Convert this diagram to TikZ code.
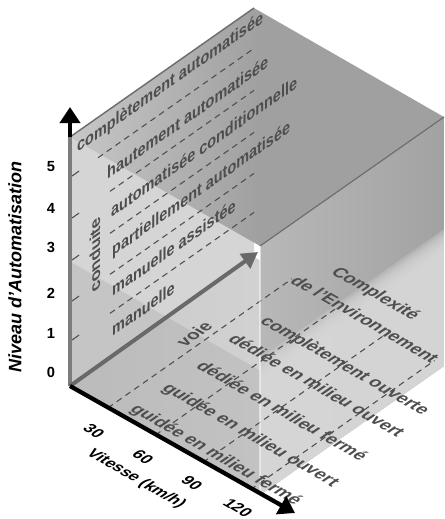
\documentclass[tikz,border=0pt]{standalone}
\usepackage{fontspec}
\setmainfont{Liberation Sans}
\usetikzlibrary{arrows.meta}
\definecolor{txt}{HTML}{4E4E4E}
\definecolor{wallc}{HTML}{D5D5D5}
\definecolor{fl1}{HTML}{CACACA}
\definecolor{fl2}{HTML}{D8D8D8}
\definecolor{topdark}{HTML}{A0A0A0}
\definecolor{rfd1}{HTML}{B8B8B8}
\definecolor{rfd2}{HTML}{A2A2A2}
\definecolor{rflight}{HTML}{D8D8D8}
\definecolor{edgec}{HTML}{6E6E6E}
\definecolor{arrowg}{HTML}{696969}
\definecolor{axisg}{HTML}{7C7C7C}
\tikzset{
  lbl/.style={font=\bfseries\fontsize{13.2}{15}\selectfont, text=txt, inner sep=0pt, anchor=base west, transform shape},
  wall/.style={lbl, cm={0.819,0.574,0,1,(0,0)}},
  wallv/.style={lbl, cm={0,1,-0.819,-0.574,(0,0)}},
  floor/.style={lbl, cm={0.867,-0.498,0.819,0.574,(0,0)}},
  voiestyle/.style={lbl, anchor=center, cm={0.819,0.574,-0.867,0.498,(0,0)}},
  speedlbl/.style={font=\bfseries\fontsize{12}{14}\selectfont, text=black, inner sep=0pt, anchor=center, transform shape, cm={0.867,-0.498,0.819,0.574,(0,0)}},
  num/.style={font=\bfseries\fontsize{11}{13}\selectfont, inner sep=0pt, anchor=center},
  ytitle/.style={font=\bfseries\itshape\fontsize{13.5}{15}\selectfont, inner sep=0pt, anchor=center, rotate=90},
  grid/.style={draw=txt, line width=0.8pt, dash pattern=on 4.5pt off 3.5pt},
  tick/.style={draw=txt, line width=0.8pt},
}
\begin{document}
\begin{tikzpicture}[x=0.75pt,y=-0.75pt]
\useasboundingbox (0,0) rectangle (444,519);
% corners
\coordinate (O) at (70,386);
\coordinate (A) at (70,137);
\coordinate (B) at (254,8);
\coordinate (C) at (444,117);
\coordinate (D) at (260,246);
\coordinate (Ou) at (260,495);
\coordinate (Ov) at (254,257);
\coordinate (Ouv) at (444,366);
\coordinate (Hf) at (70,261.5);
\coordinate (Hu) at (260,370.5);
\coordinate (Huv) at (444,241.5);
\coordinate (Ztip) at (70,107);
\coordinate (Stip) at (295,513);
\coordinate (Etip) at (258,252);
% floor
\shade[left color=fl1, right color=fl2] (O) -- (Ou) -- (Ouv) -- (Ov) -- cycle;
% left wall
\fill[wallc] (O) -- (A) -- (B) -- (Ov) -- cycle;
% lower front veil
\fill[black, opacity=0.07] (O) -- (Hf) -- (Hu) -- (Ou) -- cycle;
% right face
\begin{scope}
\clip (D) -- (C) -- (Ouv) -- (Ou) -- cycle;
\shade[left color=rfd1, right color=rfd2] (D) -- (C) -- (Ouv) -- (Ou) -- cycle;
\foreach \k in {0,...,7}{
  \pgfmathsetmacro\o{-10+2.5*\k}
  \fill[rflight, opacity=0.3, shift={(0.574*\o,0.819*\o)}] (-47,585.5) -- (935,-103) -- (1279,388) -- (297,1077) -- cycle;
}
\end{scope}
% top face
\begin{scope}
\clip (A) -- (B) -- (C) -- (D) -- cycle;
\shade[left color=wallc, right color=topdark] (0,-10) rectangle (260,260);
\fill[topdark] (259,-10) rectangle (450,260);
\end{scope}
% wall grid lines
\foreach \y/\xs in {340/110,301/110,260/110,218/110,176/98}{
  \draw[tick] (72,\y) -- (79,\y-4.9);
  \draw[grid] (\xs,{\y-0.701*(\xs-72)}) -- (254,{\y-0.701*182});
}
% floor grid lines
\draw[grid] (108,407.8) -- (292,278.8);
\draw[grid] (155.5,435) -- (339.5,306);
\draw[grid] (203,462.3) -- (387,333.3);
\draw[grid] (250.5,489.6) -- (434.5,360.6);
% edges
\draw[edgec, line width=1.1pt] (A) -- (B);
\draw[edgec, line width=0.9pt] (D) -- (C);
\draw[white, opacity=0.5, line width=0.8pt] (D) -- (Ou);
% wall texts
\node[wall] (t1) at (112,337) {manuelle};
\node[wall] (t2) at (112,297) {manuelle assistée};
\node[wall] (t3) at (112,257) {partiellement automatisée};
\node[wall] (t4) at (111,218) {automatisée conditionnelle};
\node[wall] (t5) at (107,180) {hautement automatisée};
\node[wall] (t6) at (77,153) {complètement automatisée};
\node[wallv] (cd) at (100,289) {conduite};
% floor texts
\node[floor] (f1) at (129,410) {guidée en milieu fermé};
\node[floor] (f2) at (161,389) {guidée en milieu ouvert};
\node[floor] (f3) at (195,367) {dédiée en milieu fermé};
\node[floor] (f4) at (227,340) {dédiée en milieu ouvert};
\node[floor] (f5) at (259,322) {complètement ouverte};
\node[floor] (e2) at (289,282) {de l'Environnement};
\node[floor] (e1) at (330,273) {Complexité};
\node[voiestyle] (vo) at (194,334) {voie};
% axes
\draw[axisg, line width=3.5pt] (O) -- (A);
\draw[black, line width=3pt, -{Triangle[length=12pt,width=15pt]}] (A) -- (Ztip);
\draw[arrowg, line width=3pt, -{Triangle[length=12pt,width=13pt]}] (O) -- (Etip);
\draw[black, line width=3.2pt, -{Triangle[length=12pt,width=15pt]}] (O) -- (Stip);
% speed labels
\node[speedlbl] (s30) at (94,431) {30};
\node[speedlbl] (s60) at (143,457) {60};
\node[speedlbl] (s90) at (192,483) {90};
\node[speedlbl] (s120) at (238,508) {120};
\node[speedlbl] (sv) at (136,479) {Vitesse (km/h)};
% level numbers
\node[num] (n0) at (51,372) {0};
\node[num] (n1) at (51,333) {1};
\node[num] (n2) at (51,293) {2};
\node[num] (n3) at (51,247) {3};
\node[num] (n4) at (51,208) {4};
\node[num] (n5) at (51,167) {5};
\node[ytitle] (yt) at (15,267) {Niveau d'Automatisation};
\end{tikzpicture}
\end{document}
